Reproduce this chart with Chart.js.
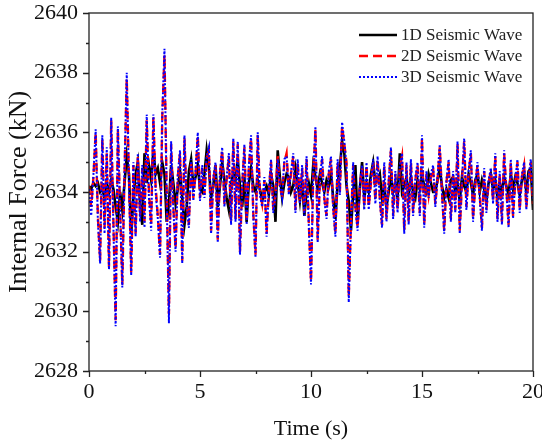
<!DOCTYPE html>
<html>
<head>
<meta charset="utf-8">
<script src="https://cdn.jsdelivr.net/npm/chart.js@4.4.0/dist/chart.umd.min.js"></script>
<style>
    html, body { margin: 0; padding: 0; background: #fff; }
    #wrap { width: 542px; height: 448px; }
</style>
</head>
<body>
<div id="wrap"><canvas id="forceChart" width="542" height="448"></canvas></div>
<script>
// sampling interval of the records (s)
const sampleStep = 0.1;

const xTicks = [0, 5, 10, 15, 20];
const yTicks = [2628, 2630, 2632, 2634, 2636, 2638, 2640];
const seriesNames = ['1D Seismic Wave', '2D Seismic Wave', '3D Seismic Wave'];

// internal force, one value per 0.1 s
const wave1D = [
    2634.2, 2634.1, 2634.3, 2634.2, 2634.3, 2634.0, 2634.1, 2633.8, 2634.3, 2634.0,
    2634.4, 2634.1, 2633.5, 2633.0, 2634.0, 2633.4, 2634.3, 2635.2, 2634.6, 2632.6,
    2633.8, 2634.6, 2635.0, 2633.6, 2632.9, 2635.3, 2634.3, 2634.9, 2634.4, 2635.4,
    2634.6, 2634.8, 2634.3, 2635.0, 2634.6, 2633.0, 2633.6, 2634.9, 2634.3, 2633.6,
    2634.1, 2634.7, 2633.8, 2632.9, 2633.5, 2634.7, 2635.1, 2634.2, 2634.5, 2634.9,
    2634.1, 2634.0, 2634.6, 2635.4, 2634.8, 2633.8, 2634.2, 2634.9, 2633.5, 2634.2,
    2635.0, 2634.4, 2633.8, 2633.4, 2634.3, 2634.6, 2634.4, 2635.1, 2634.2, 2633.5,
    2634.5, 2633.0, 2634.3, 2634.8, 2634.2, 2634.0, 2634.4, 2634.1, 2633.7, 2634.0,
    2634.2, 2633.9, 2634.6, 2634.2, 2633.0, 2635.4, 2634.5, 2633.8, 2634.3, 2634.6,
    2634.5, 2634.0, 2634.2, 2634.8, 2634.3, 2633.7, 2634.4, 2633.2, 2634.0, 2634.3,
    2633.9, 2634.9, 2634.5, 2634.1, 2634.6, 2634.3, 2634.0, 2634.4, 2634.2, 2634.6,
    2633.8, 2633.1, 2634.3, 2634.8, 2635.7, 2635.3, 2634.2, 2633.7, 2632.7, 2634.0,
    2634.9, 2633.0, 2634.1, 2635.0, 2633.8, 2634.3, 2634.0, 2634.6, 2635.0, 2634.3,
    2634.4, 2634.6, 2633.8, 2634.2, 2633.5, 2634.0, 2634.5, 2634.0, 2634.3, 2633.8,
    2635.3, 2634.0, 2634.2, 2634.5, 2633.9, 2634.5, 2634.0, 2633.8, 2634.4, 2634.1,
    2634.6, 2634.2, 2634.0, 2634.6, 2634.3, 2634.0, 2634.0, 2634.4, 2634.8, 2634.2,
    2633.8, 2634.1, 2633.8, 2634.4, 2634.5, 2634.0, 2634.3, 2633.7, 2634.5, 2634.2,
    2634.0, 2634.6, 2634.3, 2633.9, 2634.4, 2634.6, 2634.0, 2634.4, 2634.1, 2633.7,
    2634.3, 2634.6, 2634.1, 2634.4, 2633.8, 2634.3, 2634.0, 2634.5, 2634.2, 2633.9,
    2634.6, 2634.1, 2634.5, 2634.3, 2633.9, 2634.4, 2634.6, 2634.0, 2634.7, 2634.8,
    2633.4
];

const wave2D = [
    2634.2, 2633.5, 2634.5, 2636.0, 2633.2, 2631.7, 2635.8, 2632.8, 2635.3, 2631.5,
    2636.4, 2633.0, 2629.7, 2636.1, 2633.5, 2630.9, 2634.6, 2637.8, 2634.5, 2631.3,
    2634.9, 2632.6, 2635.2, 2633.2, 2634.8, 2633.0, 2636.4, 2634.0, 2632.9, 2636.5,
    2634.2, 2633.2, 2631.9, 2636.5, 2638.6, 2634.0, 2629.9, 2635.6, 2633.5, 2632.1,
    2634.5, 2635.3, 2631.7, 2635.8, 2633.6, 2632.9, 2635.0, 2633.8, 2634.6, 2635.9,
    2633.8, 2634.8, 2633.9, 2635.1, 2635.4, 2632.7, 2634.4, 2634.9, 2632.4, 2634.6,
    2635.4, 2633.6, 2634.4, 2635.2, 2633.0, 2635.7, 2633.1, 2635.6, 2632.0, 2634.2,
    2635.5, 2633.0, 2634.8, 2635.8, 2633.3, 2631.9, 2635.9, 2634.0, 2633.6, 2634.4,
    2632.6, 2634.0, 2635.0, 2633.4, 2633.9, 2635.2, 2634.1, 2633.9, 2635.0, 2635.3,
    2634.0, 2634.6, 2635.2, 2633.4, 2635.0, 2633.7, 2634.8, 2633.3, 2635.1, 2633.0,
    2631.0, 2634.5, 2636.1, 2632.4, 2634.3, 2635.1, 2633.8, 2633.2, 2634.6, 2635.1,
    2633.5, 2632.6, 2635.0, 2634.0, 2636.2, 2635.6, 2635.0, 2630.5, 2633.0, 2634.9,
    2633.5, 2632.8, 2634.2, 2634.8, 2633.5, 2634.9, 2633.5, 2634.3, 2635.0, 2633.7,
    2635.1, 2633.8, 2632.9, 2634.9, 2633.1, 2634.3, 2635.4, 2633.2, 2634.6, 2633.4,
    2634.8, 2635.2, 2632.7, 2634.9, 2633.0, 2635.0, 2633.3, 2634.4, 2634.9, 2633.3,
    2635.8, 2632.9, 2634.6, 2633.9, 2634.5, 2634.8, 2633.6, 2634.4, 2635.5, 2634.0,
    2632.7, 2634.3, 2635.0, 2633.1, 2634.6, 2633.4, 2635.6, 2632.7, 2634.3, 2635.7,
    2633.5, 2634.6, 2635.3, 2633.1, 2634.2, 2634.9, 2633.9, 2632.8, 2634.7, 2633.4,
    2634.3, 2634.7, 2633.7, 2635.2, 2633.1, 2634.6, 2633.0, 2635.3, 2634.1, 2632.9,
    2635.0, 2633.2, 2634.3, 2635.0, 2633.4, 2634.5, 2634.9, 2633.5, 2634.4, 2635.0,
    2633.6
];

const wave3D = [
    2634.1, 2633.2, 2634.6, 2636.1, 2633.0, 2631.6, 2635.9, 2632.6, 2635.5, 2631.4,
    2636.5, 2632.8, 2629.5, 2636.2, 2633.4, 2630.8, 2634.8, 2638.0, 2634.3, 2631.2,
    2635.0, 2632.5, 2635.3, 2633.0, 2634.9, 2632.8, 2636.6, 2633.8, 2632.7, 2636.6,
    2634.0, 2633.1, 2631.8, 2636.6, 2638.8, 2633.8, 2629.6, 2635.7, 2633.4, 2632.0,
    2634.6, 2635.4, 2631.6, 2635.9, 2633.5, 2632.8, 2635.1, 2633.7, 2634.7, 2636.0,
    2633.7, 2634.9, 2633.8, 2635.2, 2635.5, 2632.6, 2634.5, 2635.0, 2632.3, 2634.7,
    2635.5, 2633.5, 2634.5, 2635.3, 2632.9, 2635.8, 2633.0, 2635.7, 2631.9, 2634.3,
    2635.6, 2632.9, 2634.9, 2635.9, 2633.2, 2631.8, 2636.0, 2633.9, 2633.5, 2634.5,
    2632.5, 2634.1, 2635.1, 2633.3, 2633.8, 2635.1, 2634.2, 2633.8, 2635.1, 2635.2,
    2633.9, 2634.7, 2635.3, 2633.3, 2635.1, 2633.6, 2634.9, 2633.2, 2635.2, 2632.9,
    2630.9, 2634.6, 2636.2, 2632.3, 2634.4, 2635.2, 2633.7, 2633.1, 2634.7, 2635.2,
    2633.4, 2632.5, 2635.1, 2633.9, 2636.35, 2635.7, 2634.9, 2630.3, 2632.9, 2635.0,
    2633.4, 2632.7, 2634.3, 2634.9, 2633.4, 2635.0, 2633.4, 2634.4, 2635.1, 2633.6,
    2635.2, 2633.7, 2632.8, 2635.0, 2633.0, 2634.4, 2635.5, 2633.1, 2634.7, 2633.3,
    2634.9, 2635.3, 2632.6, 2635.0, 2632.9, 2635.1, 2633.2, 2634.5, 2635.0, 2633.2,
    2635.9, 2632.8, 2634.7, 2633.8, 2634.6, 2634.9, 2633.5, 2634.5, 2635.6, 2633.9,
    2632.6, 2634.4, 2635.1, 2633.0, 2634.7, 2633.3, 2635.7, 2632.6, 2634.4, 2635.8,
    2633.4, 2634.7, 2635.4, 2633.0, 2634.3, 2635.0, 2633.8, 2632.7, 2634.8, 2633.3,
    2634.4, 2634.8, 2633.6, 2635.3, 2633.0, 2634.7, 2632.9, 2635.4, 2634.0, 2632.8,
    2635.1, 2633.1, 2634.4, 2635.1, 2633.3, 2634.6, 2635.0, 2633.4, 2634.5, 2635.1,
    2633.7
];

const serif = 'Liberation Serif, "Times New Roman", serif';
const toPoints = arr => arr.map((v, i) => ({ x: +(i * sampleStep).toFixed(2), y: v }));

const styles = [
    { color: '#000000', width: 2.6, dash: [] },
    { color: '#ff0000', width: 2.4, dash: [9, 5] },
    { color: '#0000ff', width: 2, dash: [2, 2] }
];

// frame, minor/major ticks and the in-plot legend
const decorations = {
    id: 'decorations',
    afterDraw(chart) {
        const { ctx, chartArea: a, scales } = chart;
        ctx.save();
        ctx.strokeStyle = '#222';
        ctx.lineWidth = 1.3;
        ctx.strokeRect(a.left, a.top, a.right - a.left, a.bottom - a.top);

        ctx.beginPath();
        for (let v = 2628; v <= 2640; v += 1) {
            const y = Math.round(scales.y.getPixelForValue(v)) + 0.5;
            const len = v % 2 === 0 ? 6 : 3;
            ctx.moveTo(a.left, y);
            ctx.lineTo(a.left - len, y);
        }
        for (let v = 0; v <= 20; v += 2.5) {
            const x = Math.round(scales.x.getPixelForValue(v)) + 0.5;
            const len = v % 5 === 0 ? 6 : 3;
            ctx.moveTo(x, a.bottom);
            ctx.lineTo(x, a.bottom + len);
        }
        ctx.stroke();

        ctx.font = '17px ' + serif;
        ctx.fillStyle = '#222';
        ctx.textBaseline = 'middle';
        seriesNames.forEach((name, i) => {
            const y = 35 + i * 21;
            const s = styles[i];
            ctx.beginPath();
            ctx.strokeStyle = s.color;
            ctx.lineWidth = s.width;
            ctx.setLineDash(s.dash);
            ctx.moveTo(359, y);
            ctx.lineTo(397, y);
            ctx.stroke();
            ctx.setLineDash([]);
            ctx.fillText(name, 401, y + 1);
        });
        ctx.restore();
    }
};

const tickFont = { family: serif, size: 22 };

new Chart(document.getElementById('forceChart'), {
    type: 'line',
    data: {
        datasets: [wave1D, wave2D, wave3D].map((arr, i) => ({
            label: seriesNames[i],
            data: toPoints(arr),
            borderColor: styles[i].color,
            borderWidth: styles[i].width,
            borderDash: styles[i].dash,
            pointRadius: 0,
            tension: 0,
            fill: false,
            order: 2 - i
        }))
    },
    options: {
        responsive: false,
        animation: false,
        devicePixelRatio: 1,
        layout: { padding: { top: 13, right: 9, left: 0, bottom: 0 } },
        plugins: { legend: { display: false }, tooltip: { enabled: false } },
        scales: {
            x: {
                type: 'linear',
                min: 0,
                max: 20,
                afterBuildTicks: s => { s.ticks = xTicks.map(v => ({ value: v })); },
                afterFit: s => { s.height = 77; s.paddingLeft = 0; s.paddingRight = 0; },
                ticks: { font: tickFont, color: '#111', padding: 8, maxRotation: 0, callback: v => String(v) },
                grid: { drawOnChartArea: false, drawTicks: false },
                border: { display: false },
                title: { display: true, text: 'Time (s)', font: tickFont, color: '#111', padding: { top: 0, bottom: 6 } }
            },
            y: {
                min: 2628,
                max: 2640,
                afterBuildTicks: s => { s.ticks = yTicks.map(v => ({ value: v })); },
                afterFit: s => { s.width = 89; s.paddingTop = 0; s.paddingBottom = 0; },
                ticks: { font: tickFont, color: '#111', padding: 11, callback: v => String(v) },
                grid: { drawOnChartArea: false, drawTicks: false },
                border: { display: false },
                title: { display: true, text: 'Internal Force (kN)', font: { family: serif, size: 26 }, color: '#111', padding: { top: 4, bottom: 0 } }
            }
        }
    },
    plugins: [decorations]
});
</script>
</body>
</html>
